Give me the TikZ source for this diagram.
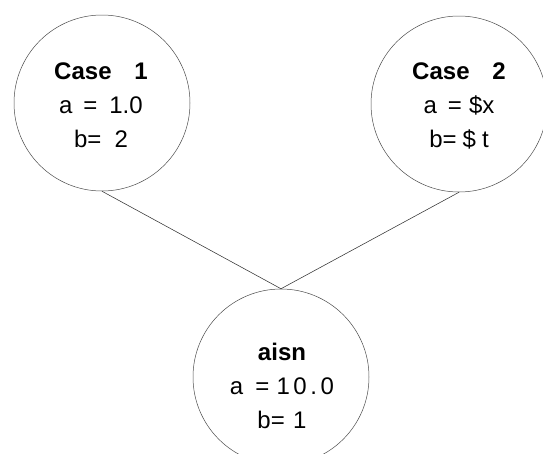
\documentclass[tikz,border=0pt]{standalone}
\usepackage{fontspec}
\setmainfont{Liberation Sans}
\begin{document}
\begin{tikzpicture}[x=1pt,y=-1pt,
  bubble/.style={draw=black!70, line width=0.5pt, circle, minimum size=176pt, inner sep=0pt},
  label/.style={align=center, inner sep=0pt, anchor=north, font=\fontsize{24}{34}\selectfont},
  link/.style={draw=black!80, line width=0.55pt}]
\useasboundingbox (0,0) rectangle (543,453);
\node[bubble] (c1) at (102,103) {};
\node[bubble] (c2) at (459,104) {};
\node[bubble] (c3) at (281,377) {};
\node[label] (t1) at (101,63) {\textbf{Case\hspace{0.95em}1}\\a\hspace{0.45em}=\hspace{0.5em}1.0\\b=\hspace{0.55em}2};
\node[label] (t2) at (459,63) {\textbf{Case\hspace{0.95em}2}\\a\hspace{0.45em}=\hspace{0.3em}\$x\\b=\hspace{0.25em}\$\hspace{0.25em}t};
\node[label] (t3) at (282,342.5) {\textbf{aisn}\\a\hspace{0.5em}=\hspace{0.3em}1\hspace{0.15em}0\hspace{0.15em}.\hspace{0.15em}0\\b=\hspace{0.35em}1};
\draw[link] (c1.south) -- (c3.north);
\draw[link] (c2.south) -- (c3.north);
\end{tikzpicture}
\end{document}
